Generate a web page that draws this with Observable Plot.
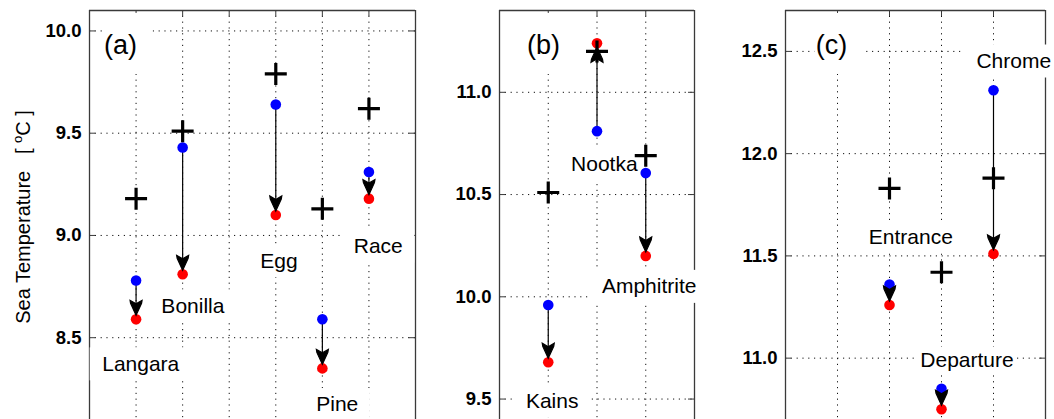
<!DOCTYPE html>
<html><head><meta charset="utf-8">
<script src="https://cdn.jsdelivr.net/npm/d3@7"></script>
<script src="https://cdn.jsdelivr.net/npm/@observablehq/plot@0.6"></script>
<style>
html,body{margin:0;padding:0;background:#fff;}
#wrap{position:relative;width:1054px;height:419px;overflow:hidden;font-family:"Liberation Sans",Arial,sans-serif;}
.panel{position:absolute;top:0;}
#ylabel{position:absolute;left:23px;top:217px;transform:translate(-50%,-50%) rotate(-90deg);white-space:pre;font-size:20px;color:#000;line-height:1;}
#ylabel sup{font-size:13px;vertical-align:0.6em;line-height:0;}
</style></head>
<body><div id="wrap"><div id="ylabel">Sea Temperature   [ <sup>o</sup>C ]</div></div>
<script>
// ---------- data: panel (a) ----------
const stationsA = ["Langara", "Bonilla", "Egg", "Pine", "Race"];
const posA = [1, 2, 4, 5, 6];
const plusA = [9.18, 9.51, 9.79, 9.13, 9.62];
const blueA = [8.78, 9.43, 9.64, 8.59, 9.31];
const redA = [8.59, 8.81, 9.10, 8.35, 9.18];
const labelXA = [1.10, 2.22, 4.07, 5.32, 6.20];
const labelYA = [8.372, 8.655, 8.876, 8.173, 8.948];
const yTicksA = [8.5, 9.0, 9.5, 10.0];
const xGridA = [1, 2, 3, 4, 5, 6];

// ---------- data: panel (b) ----------
const stationsB = ["Kains", "Nootka", "Amphitrite"];
const posB = [1, 2, 3];
const plusB = [10.51, 11.20, 10.69];
const blueB = [9.96, 10.81, 10.605];
const redB = [9.68, 11.24, 10.20];
const labelXB = [1.08, 2.15, 3.07];
const labelYB = [9.491, 10.648, 10.051];
const yTicksB = [9.5, 10.0, 10.5, 11.0];
const xGridB = [1, 2, 3];

// ---------- data: panel (c) ----------
const stationsC = ["Entrance", "Departure", "Chrome"];
const posC = [2, 3, 4];
const plusC = [11.83, 11.42, 11.88];
const blueC = [11.36, 10.85, 12.31];
const redC = [11.26, 10.75, 11.51];
const labelXC = [2.41, 3.49, 4.39];
const labelYC = [11.593, 10.990, 12.453];
const yTicksC = [11.0, 11.5, 12.0, 12.5];
const xGridC = [1, 2, 3, 4];

const letters = ["(a)", "(b)", "(c)"];
const letterX = [0.666, 0.903, 0.885];
const letterY = [9.929, 11.229, 12.529];

// ---------- styles ----------
const FONT = '"Liberation Sans", Arial, sans-serif';
const FRAME = "#3a3a3a";
const GRID = "#111";
const defaultPad = {l: 12, r: 12, t: 16, b: 17};
const labelPad = {Departure: {l: 3, r: 3, t: 13, b: 13}};
const letterPad = {l: 1, r: 16, t: 32, b: 29};

const cv = document.createElement("canvas").getContext("2d");
function textWidth(t, size) { cv.font = `${size}px ${FONT}`; return cv.measureText(t).width; }

const plusSymbol = {draw(c) { c.moveTo(-11, 0); c.lineTo(11, 0); c.moveTo(0, -11); c.lineTo(0, 11); }};
const headDown = {draw(c) { c.moveTo(0, -4); c.lineTo(5.5, -16); c.lineTo(6, -19); c.lineTo(0, -15.5); c.lineTo(-6, -19); c.lineTo(-5.5, -16); c.closePath(); }};
const headUp = {draw(c) { c.moveTo(0, 4); c.lineTo(5.5, 16); c.lineTo(6, 19); c.lineTo(0, 15.5); c.lineTo(-6, 19); c.lineTo(-5.5, 16); c.closePath(); }};

function panel(cfg) {
  const {stations, pos, plus, blue, red, labelX, labelY, letter, lx, ly,
         xDomain, yDomain, xGrid, yTicks, left, width, marginLeft, marginRight} = cfg;
  const idx = stations.map((_, i) => i);
  const labels = stations.map((s, i) => ({text: s, x: labelX[i], y: labelY[i], size: 21, pad: labelPad[s] || defaultPad}));
  const letterData = [{text: letter, x: lx, y: ly, size: 27, pad: letterPad}];
  const boxes = labels.concat(letterData).map(l => {
    const w = textWidth(l.text, l.size);
    return Plot.rect([l], {x1: "x", x2: "x", y1: "y", y2: "y", fill: "white",
      insetLeft: -(w / 2 + l.pad.l), insetRight: -(w / 2 + l.pad.r),
      insetTop: -l.pad.t, insetBottom: -l.pad.b});
  });
  const [x0, x1] = xDomain, yTop = yDomain[1];
  const down = idx.filter(i => red[i] < blue[i]);
  const up = idx.filter(i => red[i] >= blue[i]);
  const chart = Plot.plot({
    width, height: 419, marginLeft, marginRight, marginTop: 10, marginBottom: 0,
    style: {background: "transparent", overflow: "visible", fontFamily: FONT, fontSize: "18.5px", fontWeight: "bold", color: "#000"},
    x: {domain: xDomain, axis: null},
    y: {domain: yDomain, ticks: yTicks, tickFormat: ".1f", tickSize: 0, tickPadding: 8, label: null},
    marks: [
      Plot.ruleX(xGrid, {x: d => d, stroke: GRID, strokeDasharray: "1.2,4.6", strokeWidth: 1}),
      Plot.ruleY(yTicks, {y: d => d, stroke: GRID, strokeDasharray: "1.2,4.6", strokeWidth: 1}),
      Plot.ruleX([x0, x1], {x: d => d, stroke: FRAME, strokeWidth: 1.3}),
      Plot.ruleY([yTop], {y: d => d, stroke: FRAME, strokeWidth: 1.3}),
      Plot.ruleY(yTicks, {y: d => d, x1: x0, x2: x0, insetRight: -6, stroke: FRAME}),
      Plot.ruleY(yTicks, {y: d => d, x1: x1, x2: x1, insetLeft: -6, stroke: FRAME}),
      Plot.ruleX(xGrid, {x: d => d, y1: yTop, y2: yTop, insetBottom: -6, stroke: FRAME}),
      ...boxes,
      Plot.text(labels, {x: "x", y: "y", text: "text", fontSize: 21, fontWeight: "normal", fill: "#000", lineAnchor: "middle", textAnchor: "middle"}),
      Plot.text(letterData, {x: "x", y: "y", text: "text", fontSize: 27, fontWeight: "normal", fill: "#000", lineAnchor: "middle", textAnchor: "middle"}),
      Plot.link(idx, {x1: i => pos[i], y1: i => blue[i], x2: i => pos[i], y2: i => red[i], stroke: "#000", strokeWidth: 1.2}),
      Plot.dot(idx, {x: i => pos[i], y: i => blue[i], r: 5.3, fill: "#0000ff"}),
      Plot.dot(idx, {x: i => pos[i], y: i => red[i], r: 5.3, fill: "#ff0000"}),
      Plot.dot(down, {x: i => pos[i], y: i => red[i], symbol: headDown, fill: "#000", stroke: "#000", strokeWidth: 1.2}),
      Plot.dot(up, {x: i => pos[i], y: i => red[i], symbol: headUp, fill: "#000", stroke: "#000", strokeWidth: 1.2}),
      Plot.dot(idx, {x: i => pos[i], y: i => plus[i], symbol: plusSymbol, fill: "none", stroke: "#000", strokeWidth: 3.2})
    ]
  });
  chart.classList.add("panel");
  chart.style.left = left + "px";
  document.getElementById("wrap").appendChild(chart);
}

panel({stations: stationsA, pos: posA, plus: plusA, blue: blueA, red: redA, labelX: labelXA, labelY: labelYA,
  letter: letters[0], lx: letterX[0], ly: letterY[0], xDomain: [0, 7], yDomain: [8.1, 10.1], xGrid: xGridA, yTicks: yTicksA,
  left: 0, width: 440, marginLeft: 89, marginRight: 25});
panel({stations: stationsB, pos: posB, plus: plusB, blue: blueB, red: redB, labelX: labelXB, labelY: labelYB,
  letter: letters[1], lx: letterX[1], ly: letterY[1], xDomain: [0, 4], yDomain: [9.4, 11.4], xGrid: xGridB, yTicks: yTicksB,
  left: 440, width: 270, marginLeft: 59, marginRight: 16});
panel({stations: stationsC, pos: posC, plus: plusC, blue: blueC, red: redC, labelX: labelXC, labelY: labelYC,
  letter: letters[2], lx: letterX[2], ly: letterY[2], xDomain: [0, 5], yDomain: [10.7, 12.7], xGrid: xGridC, yTicks: yTicksC,
  left: 710, width: 344, marginLeft: 75, marginRight: 9});
</script>
</body></html>
